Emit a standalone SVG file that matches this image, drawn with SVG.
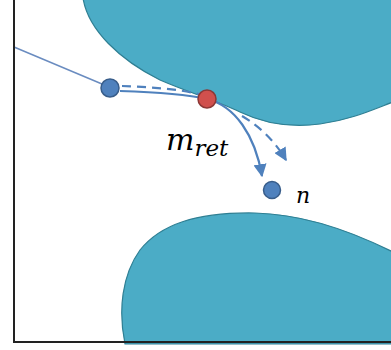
<svg xmlns="http://www.w3.org/2000/svg" width="391" height="350" viewBox="0 0 391 350">
<defs>
<style>
.blob{fill:#4BACC6;stroke:#2F7F93;stroke-width:1.2}
.conn{fill:none;stroke:#4F81BD;stroke-width:2.2}
.dash{stroke-dasharray:9 6}
.bdot{fill:#4F81BD;stroke:#385D8A;stroke-width:1.5}
.rdot{fill:#D0504D;stroke:#8C3836;stroke-width:1.5}
.lbl{font-family:"DejaVu Serif",serif;font-style:italic;fill:#000}
</style>
<marker id="ah" viewBox="0 0 10 10" refX="9" refY="5" markerWidth="6" markerHeight="6" orient="auto" markerUnits="strokeWidth">
<path d="M0,0 L10,5 L0,10 Z" fill="#4F81BD"/>
</marker>
</defs>
<rect x="0" y="0" width="391" height="350" fill="#fff"/>
<path class="blob" d="M83,-2 C88,30 120,60 160,80 C190,93 215,100 240,112 C265,124 290,128 320,124 C350,120 372,110 393,102 L393,-2 Z"/>
<path class="blob" d="M125,344 C118,310 122,275 140,250 C160,225 195,212 255,213 C300,214 345,228 393,252 L393,344 Z"/>
<g id="connectors">
<line x1="14" y1="47" x2="102" y2="84" stroke="#6A8CC0" stroke-width="1.5"/>
<path class="conn" d="M120,91 C150,92 185,94 207,99 C235,106 255,135 262,176" marker-end="url(#ah)"/>
<path class="conn dash" d="M122,86 C150,87 180,89 203,95"/>
<path class="conn dash" d="M242,116 C262,128 276,143 286,160" marker-end="url(#ah)"/>
</g>
<g id="node-start"><circle class="bdot" cx="110" cy="88" r="9"/></g>
<g id="node-ret"><circle class="rdot" cx="207" cy="99" r="9"/></g>
<g id="node-n"><circle class="bdot" cx="272" cy="190" r="8.5"/><text class="lbl" x="296" y="203" font-size="22">n</text></g>
<g id="label-mret"><text class="lbl" x="166" y="150" font-size="30">m<tspan font-size="23" dy="6">ret</tspan></text></g>
<path d="M14,0 V342 H391" fill="none" stroke="#222" stroke-width="2"/>
</svg>
